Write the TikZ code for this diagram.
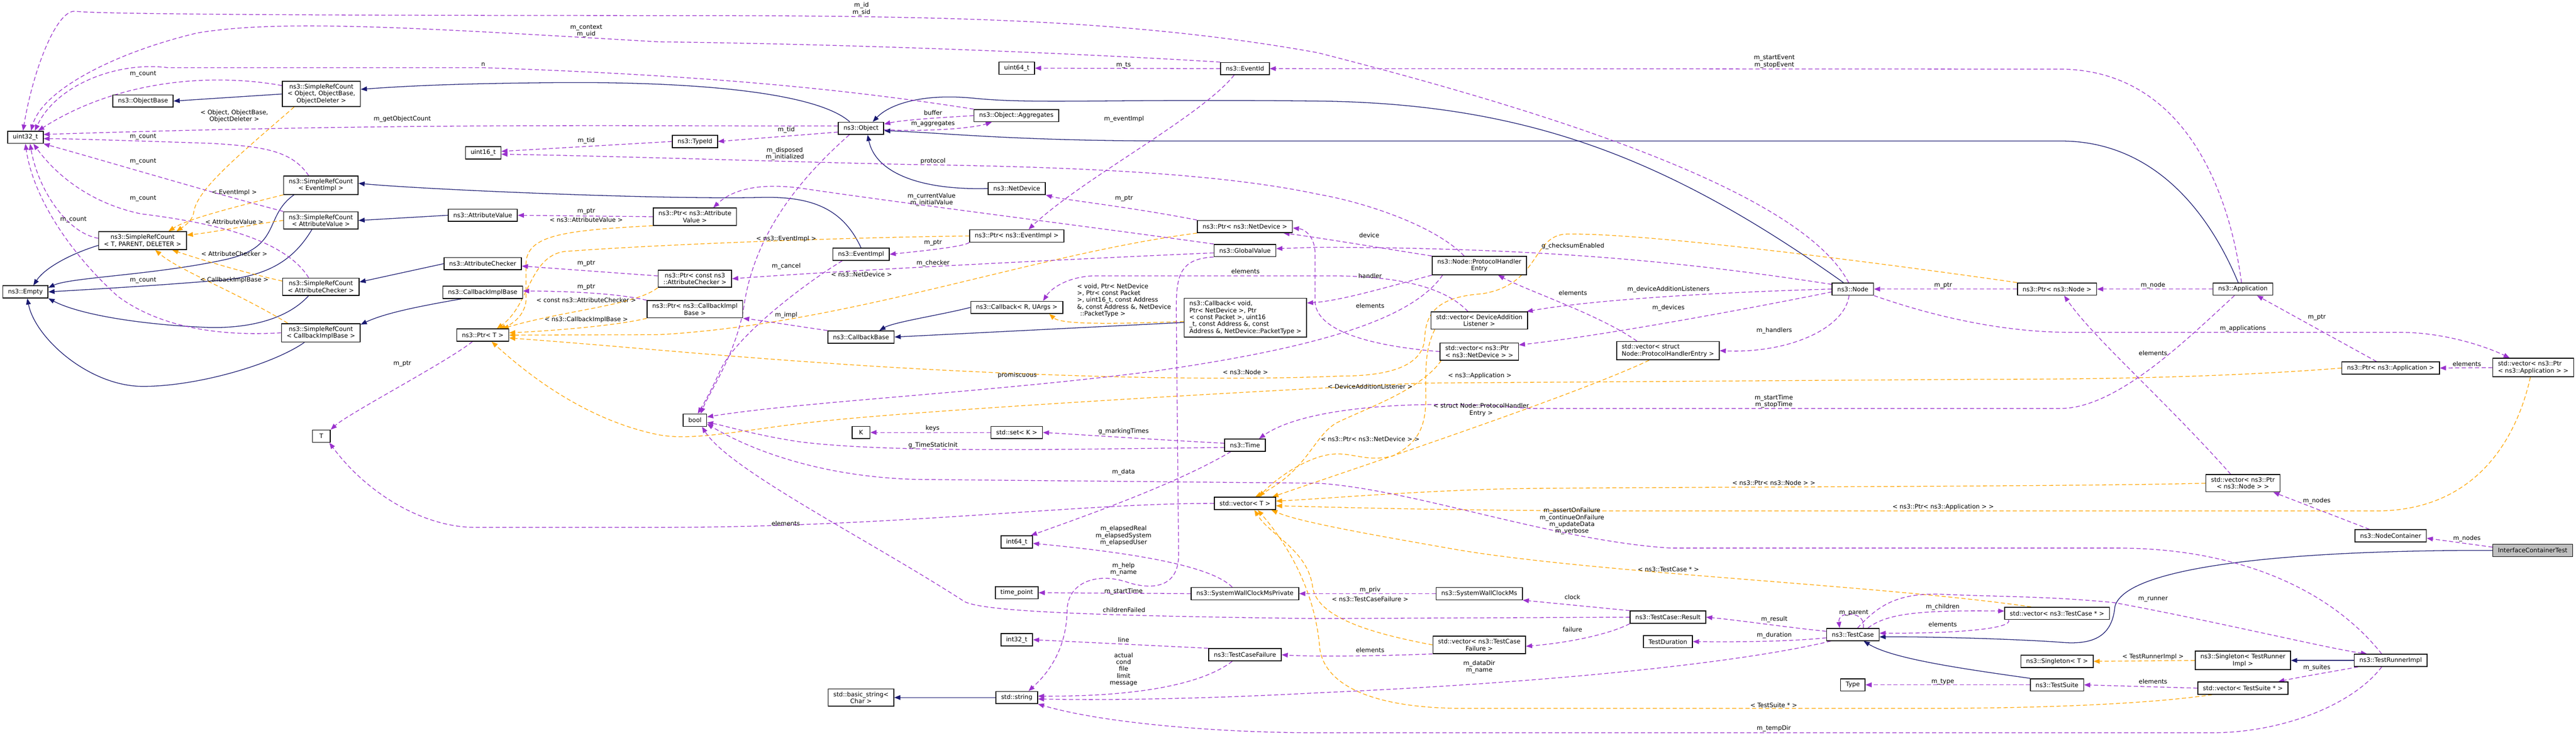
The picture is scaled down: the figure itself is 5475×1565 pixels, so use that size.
\documentclass[tikz,border=0pt]{standalone}
\usepackage{fontspec}
\usepackage{tikz}
\usetikzlibrary{arrows.meta}
\usetikzlibrary{backgrounds}
\newfontfamily\dejavu{DejaVu Sans}
\newcommand{\diagfont}{\dejavu\fontsize{3.7}{4.15}\selectfont}
\definecolor{navyline}{HTML}{191970}
\definecolor{purpleline}{HTML}{9A32CD}
\definecolor{orangeline}{HTML}{FFA500}
\definecolor{rootfill}{HTML}{BFBFBF}

\begin{document}
\begin{tikzpicture}[x=0.01cm, y=-0.01cm,
    classbox/.style={draw=black, line width=0.5pt, fill=white, inner xsep=0.11cm, inner ysep=0.06cm, minimum height=0.26cm, align=center},
    rootbox/.style={classbox, fill=rootfill},
    edgelabel/.style={inner sep=0pt, align=center},
    connector/.style={line width=0.4pt, -{Triangle[length=0.13cm, width=0.1cm]}},
    inherit/.style={connector, draw=navyline},
    member/.style={connector, draw=purpleline, dash pattern=on 2.5pt off 1.5pt},
    templ/.style={connector, draw=orangeline, dash pattern=on 2.5pt off 1.5pt}]
            {\diagfont
            \useasboundingbox (0,0) rectangle (5475,1565);%

            % Drawing the classes, left column
            \node[classbox] (uint32) at (54,292) {uint32\_t};%
            \node[classbox] (objbase) at (304,215) {ns3::ObjectBase};%
            \node[classbox] (srcobj) at (683,200) {ns3::SimpleRefCount\\< Object, ObjectBase,\\ObjectDeleter >};%
            \node[classbox] (srcevent) at (682,394) {ns3::SimpleRefCount\\< EventImpl >};%
            \node[classbox] (srcattr) at (682,469) {ns3::SimpleRefCount\\< AttributeValue >};%
            \node[classbox] (srcgen) at (303,512) {ns3::SimpleRefCount\\< T, PARENT, DELETER >};%
            \node[classbox] (empty) at (54,621) {ns3::Empty};%
            \node[classbox] (srcchecker) at (682,610) {ns3::SimpleRefCount\\< AttributeChecker >};%
            \node[classbox] (srccbimpl) at (682,708) {ns3::SimpleRefCount\\< CallbackImplBase >};%
            \node[classbox, minimum width=0.38cm] (tparam) at (683,928) {T};%

            % Drawing the classes, second column
            \node[classbox] (uint16) at (1027,325) {uint16\_t};%
            \node[classbox] (attrval) at (1026,458) {ns3::AttributeValue};%
            \node[classbox] (checker) at (1026,561) {ns3::AttributeChecker};%
            \node[classbox] (cbimpl) at (1026,622) {ns3::CallbackImplBase};%
            \node[classbox] (ptrgen) at (1026,713) {ns3::Ptr< T >};%

            % Drawing the classes, third column
            \node[classbox] (typeid) at (1477,301) {ns3::TypeId};%
            \node[classbox] (ptrattr) at (1477,461) {ns3::Ptr< ns3::Attribute\\Value >};%
            \node[classbox] (ptrchecker) at (1477,593) {ns3::Ptr< const ns3\\::AttributeChecker >};%
            \node[classbox] (ptrcbimpl) at (1477,658) {ns3::Ptr< ns3::CallbackImpl\\Base >};%
            \node[classbox] (boolean) at (1477,894) {bool};%

            % Drawing the classes, fourth column
            \node[classbox] (object) at (1830,273) {ns3::Object};%
            \node[classbox] (eventimpl) at (1830,541) {ns3::EventImpl};%
            \node[classbox] (cbbase) at (1830,717) {ns3::CallbackBase};%
            \node[classbox, minimum width=0.38cm] (key) at (1830,920) {K};%
            \node[classbox] (basicstring) at (1830,1484) {std::basic\_string<\\Char >};%

            % Drawing the classes, fifth column
            \node[classbox] (uint64) at (2161,145) {uint64\_t};%
            \node[classbox] (aggregates) at (2160,246) {ns3::Object::Aggregates};%
            \node[classbox] (netdevice) at (2161,401) {ns3::NetDevice};%
            \node[classbox] (ptrevent) at (2161,502) {ns3::Ptr< ns3::EventImpl >};%
            \node[classbox] (callbackgen) at (2161,654) {ns3::Callback< R, UArgs >};%
            \node[classbox] (setkey) at (2161,920) {std::set< K >};%
            \node[classbox] (int64) at (2161,1153) {int64\_t};%
            \node[classbox] (timepoint) at (2161,1261) {time\_point};%
            \node[classbox] (int32) at (2161,1361) {int32\_t};%
            \node[classbox] (string) at (2161,1484) {std::string};%

            % Drawing the classes, sixth column
            \node[classbox] (eventid) at (2646,146) {ns3::EventId};%
            \node[classbox] (ptrnetdev) at (2646,482) {ns3::Ptr< ns3::NetDevice >};%
            \node[classbox] (globalvalue) at (2646,533) {ns3::GlobalValue};%
            \node[classbox, align=left] (callbackrx) at (2647,676) {ns3::Callback< void,\\ Ptr< NetDevice >, Ptr\\< const Packet >, uint16\\\_t, const Address \&, const\\ Address \&, NetDevice::PacketType >};%
            \node[classbox] (time) at (2646,947) {ns3::Time};%
            \node[classbox] (vecgen) at (2646,1071) {std::vector< T >};%
            \node[classbox] (clockpriv) at (2646,1263) {ns3::SystemWallClockMsPrivate};%
            \node[classbox] (failure) at (2646,1393) {ns3::TestCaseFailure};%

            % Drawing the classes, seventh column
            \node[classbox] (handlerentry) at (3144,565) {ns3::Node::ProtocolHandler\\Entry};%
            \node[classbox] (veclistener) at (3144,682) {std::vector< DeviceAddition\\Listener >};%
            \node[classbox, align=left] (vecnetdev) at (3144,748) {std::vector< ns3::Ptr\\< ns3::NetDevice > >};%
            \node[classbox] (clock) at (3144,1263) {ns3::SystemWallClockMs};%
            \node[classbox] (vecfailure) at (3144,1372) {std::vector< ns3::TestCase\\Failure >};%

            % Drawing the classes, eighth column
            \node[classbox, align=left] (vechandler) at (3545,746) {std::vector< struct\\Node::ProtocolHandlerEntry >};%
            \node[classbox] (result) at (3545,1313) {ns3::TestCase::Result};%
            \node[classbox] (duration) at (3545,1365) {TestDuration};%

            % Drawing the classes, right part
            \node[classbox] (node) at (3938,615) {ns3::Node};%
            \node[classbox] (testcase) at (3938,1350) {ns3::TestCase};%
            \node[classbox] (type) at (3938,1457) {Type};%
            \node[classbox] (ptrnode) at (4372,615) {ns3::Ptr< ns3::Node >};%
            \node[classbox] (veccase) at (4372,1305) {std::vector< ns3::TestCase * >};%
            \node[classbox] (singleton) at (4372,1407) {ns3::Singleton< T >};%
            \node[classbox] (testsuite) at (4372,1457) {ns3::TestSuite};%
            \node[classbox] (application) at (4767,615) {ns3::Application};%
            \node[classbox] (vecnodes) at (4767,1028) {std::vector< ns3::Ptr\\< ns3::Node > >};%
            \node[classbox] (singletonrunner) at (4767,1405) {ns3::Singleton< TestRunner\\Impl >};%
            \node[classbox] (vecsuite) at (4767,1464) {std::vector< TestSuite * >};%
            \node[classbox] (ptrapp) at (5081,783) {ns3::Ptr< ns3::Application >};%
            \node[classbox] (nodecontainer) at (5081,1140) {ns3::NodeContainer};%
            \node[classbox] (runner) at (5081,1405) {ns3::TestRunnerImpl};%
            \node[classbox, align=left] (vecapp) at (5384,782) {std::vector< ns3::Ptr\\< ns3::Application > >};%
            \node[rootbox] (ictest) at (5383,1171) {InterfaceContainerTest};%

            \begin{scope}[on background layer]
            % Drawing inheritance
            \draw[inherit] (srcobj.west) -- (objbase.east);%
            \draw[inherit] ([xshift=-0.24cm]object.north) .. controls (1740,200) and (1500,172) .. (1161,176) .. controls (950,178) and (850,184) .. ([yshift=0.1cm]srcobj.east);%
            \draw[inherit] ([yshift=-0.1cm]srcgen.west) .. controls (150,540) and (95,570) .. ([xshift=0.17cm]empty.north);%
            \draw[inherit] ([xshift=-0.57cm]srcevent.south) .. controls (560,460) and (600,525) .. (480,552) .. controls (330,585) and (150,590) .. ([yshift=0.09cm]empty.east);%
            \draw[inherit] ([xshift=-0.19cm]srcattr.south) .. controls (620,560) and (560,592) .. (446,598) .. controls (300,610) and (150,618) .. (empty.east);%
            \draw[inherit] ([xshift=-0.26cm]srcchecker.south) .. controls (600,690) and (500,700) .. (429,696) .. controls (300,690) and (170,670) .. (empty.south east);%
            \draw[inherit] ([xshift=-0.35cm]srccbimpl.south) .. controls (580,775) and (420,822) .. (304,822) .. controls (190,822) and (75,720) .. ([xshift=0.04cm]empty.south);%
            \draw[inherit] (eventimpl.north) .. controls (1790,440) and (1720,418) .. (1620,420) .. controls (1400,425) and (900,403) .. ([yshift=0.04cm]srcevent.east);%
            \draw[inherit] (attrval.west) -- (srcattr.east);%
            \draw[inherit] (checker.west) -- ([yshift=0.1cm]srcchecker.east);%
            \draw[inherit] ([xshift=0.4cm]cbimpl.south west) .. controls (900,650) and (820,665) .. ([yshift=-0.03cm]srccbimpl.north east);%
            \draw[inherit] (netdevice.west) .. controls (1950,405) and (1860,365) .. ([xshift=0.14cm]object.south);%
            \draw[inherit] ([xshift=-0.2cm]node.north) .. controls (3550,340) and (3250,220) .. (2800,215) .. controls (2350,210) and (2200,222) .. (2070,209) .. controls (1960,198) and (1890,222) .. ([xshift=0.25cm]object.north);%
            \draw[inherit] ([xshift=-0.1cm]application.north) .. controls (4690,440) and (4570,300) .. (4380,300) -- (2500,300) .. controls (2150,300) and (2000,282) .. ([yshift=-0.05cm]object.east);%
            \draw[inherit] (callbackgen.west) .. controls (2000,670) and (1900,685) .. ([xshift=0.39cm]cbbase.north);%
            \draw[inherit] ([yshift=-0.1cm]callbackrx.west) -- (cbbase.east);%
            \draw[inherit] (string.west) -- (basicstring.east);%
            \draw[inherit] (testsuite.north west) .. controls (4150,1420) and (4020,1400) .. ([xshift=0.23cm]testcase.south);%
            \draw[inherit] (ictest.west) .. controls (4900,1170) and (4520,1200) .. (4495,1290) .. controls (4490,1345) and (4460,1372) .. (4387,1367) .. controls (4300,1360) and (4100,1354) .. ([yshift=-0.05cm]testcase.east);%
            \draw[inherit] (runner.west) -- (singletonrunner.east);%

            % Drawing template instances
            \draw[templ] ([xshift=-0.58cm]srcobj.south) .. controls (520,320) and (420,400) .. (412,450) .. controls (410,470) and (390,482) .. ([xshift=0.72cm]srcgen.north);%
            \draw[templ] (srcevent.south west) .. controls (500,440) and (400,465) .. ([xshift=0.55cm]srcgen.north);%
            \draw[templ] (srcattr.west) .. controls (550,475) and (450,495) .. ([yshift=0.12cm]srcgen.east);%
            \draw[templ] ([yshift=0.12cm]srcchecker.west) .. controls (500,575) and (420,550) .. ([xshift=0.63cm]srcgen.south);%
            \draw[templ] ([xshift=0.14cm]srccbimpl.north west) .. controls (500,620) and (380,575) .. ([xshift=0.27cm]srcgen.south);%
            \draw[templ] (ptrattr.south west) .. controls (1200,490) and (1120,500) .. (1118,560) -- (1118,640) .. controls (1115,670) and (1090,690) .. ([xshift=0.35cm]ptrgen.north);%
            \draw[templ] (ptrevent.west) .. controls (1800,505) and (1400,520) .. (1200,535) .. controls (1125,545) and (1125,650) .. ([xshift=0.3cm]ptrgen.north);%
            \draw[templ] (ptrchecker.south west) .. controls (1350,650) and (1200,660) .. ([xshift=0.42cm]ptrgen.north);%
            \draw[templ] (ptrcbimpl.south west) .. controls (1300,695) and (1150,705) .. ([yshift=0.05cm]ptrgen.east);%
            \draw[templ] (ptrnetdev.south west) .. controls (2200,540) and (1800,690) .. (1400,712) -- (ptrgen.east);%
            \draw[templ] (ptrnode.north west) .. controls (4000,560) and (3500,495) .. (3330,498) .. controls (3255,500) and (3275,605) .. (3150,625) .. controls (3050,632) and (3030,670) .. (3028,720) .. controls (3024,780) and (2950,800) .. (2850,800) .. controls (2500,815) and (2000,790) .. (1750,772) .. controls (1500,755) and (1300,735) .. ([yshift=-0.06cm]ptrgen.east);%
            \draw[templ] (ptrapp.west) .. controls (4700,805) and (4400,807) .. (4200,807) -- (3023,815) .. controls (2700,830) and (2000,870) .. (1757,895) .. controls (1600,910) and (1480,940) .. (1400,925) .. controls (1300,905) and (1180,850) .. ([xshift=0.19cm]ptrgen.south);%
            \draw[templ] ([yshift=-0.08cm]callbackrx.west) .. controls (2350,690) and (2255,690) .. ([xshift=0.69cm]callbackgen.south);%
            \draw[templ] ([xshift=0.09cm]veclistener.south west) .. controls (3030,740) and (3030,780) .. (3030,830) .. controls (3033,900) and (3020,940) .. (2960,970) .. controls (2900,985) and (2870,958) .. (2820,968) .. controls (2760,980) and (2700,1030) .. ([xshift=0.3cm]vecgen.north);%
            \draw[templ] ([xshift=0.03cm]vecnetdev.south west) .. controls (3020,830) and (2900,870) .. (2840,900) .. controls (2790,930) and (2780,1000) .. ([xshift=0.22cm]vecgen.north);%
            \draw[templ] ([xshift=-0.4cm]vechandler.south) .. controls (3350,840) and (2900,990) .. ([xshift=0.58cm]vecgen.north);%
            \draw[templ] (vecnodes.west) .. controls (4400,1036) and (3400,1036) .. (3200,1040) .. controls (3000,1045) and (2800,1062) .. ([yshift=0.05cm]vecgen.east);%
            \draw[templ] ([xshift=-0.06cm]vecapp.south) .. controls (5345,950) and (5250,1087) .. (5050,1087) -- (3400,1087) .. controls (3000,1085) and (2800,1078) .. ([yshift=-0.05cm]vecgen.east);%
            \draw[templ] ([xshift=-0.55cm]veccase.north) .. controls (4000,1245) and (3400,1220) .. (3100,1170) .. controls (2900,1135) and (2760,1110) .. ([xshift=-0.1cm]vecgen.south east);%
            \draw[templ] (vecfailure.west) .. controls (2900,1345) and (2800,1310) .. (2790,1250) .. controls (2780,1170) and (2700,1140) .. ([xshift=0.2cm]vecgen.south);%
            \draw[templ] ([xshift=-0.65cm]vecsuite.south) .. controls (4550,1500) and (4300,1507) .. (4100,1507) -- (3100,1507) .. controls (2900,1505) and (2815,1450) .. (2805,1380) .. controls (2795,1250) and (2730,1150) .. ([xshift=0.27cm]vecgen.south);%
            \draw[templ] (singletonrunner.west) -- (singleton.east);%

            % Drawing members
            \draw[member] ([xshift=-0.09cm]node.north) .. controls (3850,450) and (3500,290) .. (2800,112) .. controls (2400,40) and (2000,33) .. (1400,33) .. controls (800,33) and (220,31) .. (160,24) .. controls (120,20) and (70,150) .. ([xshift=-0.05cm]uint32.north);%
            \draw[member] (eventid.north west) .. controls (2400,120) and (1900,95) .. (1400,89) .. controls (900,60) and (600,40) .. (420,70) .. controls (250,110) and (90,190) .. ([xshift=0.12cm]uint32.north);%
            \draw[member] (aggregates.north west) .. controls (1800,190) and (1500,160) .. (1027,144) -- (357,144) .. controls (250,130) and (120,180) .. ([xshift=0.2cm]uint32.north);%
            \draw[member] ([yshift=0.18cm]srcobj.west) .. controls (450,155) and (250,170) .. ([xshift=0.27cm]uint32.north);%
            \draw[member] ([yshift=0.05cm]object.west) .. controls (1400,269) and (900,260) .. ([yshift=0.06cm]uint32.east);%
            \draw[member] ([xshift=-0.26cm]srcevent.north) .. controls (620,320) and (560,312) .. (450,305) .. controls (300,300) and (150,295) .. ([yshift=-0.03cm]uint32.east);%
            \draw[member] (srcattr.north west) .. controls (450,410) and (250,350) .. (uint32.south east);%
            \draw[member] ([yshift=0.05cm]srcgen.west) .. controls (140,495) and (80,400) .. ([xshift=0.1cm]uint32.south);%
            \draw[member] ([xshift=-0.26cm]srcchecker.north) .. controls (600,500) and (420,470) .. (300,455) .. controls (180,430) and (110,360) .. ([xshift=0.17cm]uint32.south);%
            \draw[member] (srccbimpl.west) .. controls (450,717) and (330,690) .. (250,630) .. controls (150,540) and (70,420) .. (uint32.south);%
            \draw[member] (typeid.west) -- ([yshift=0.03cm]uint16.east);%
            \draw[member] ([xshift=-0.32cm]handlerentry.north) .. controls (3050,480) and (2900,430) .. (2800,413) .. controls (2600,370) and (2300,355) .. (1936,350) .. controls (1700,345) and (1300,332) .. ([yshift=-0.03cm]uint16.east);%
            \draw[member] ([yshift=-0.08cm]object.west) -- (typeid.east);%
            \draw[member] (aggregates.west) .. controls (2000,250) and (1920,255) .. ([yshift=0.09cm]object.east);%
            \draw[member] ([yshift=-0.03cm]object.east) .. controls (1950,280) and (2060,275) .. ([xshift=-0.52cm]aggregates.south);%
            \draw[member] (ptrattr.west) -- (attrval.east);%
            \draw[member] ([yshift=0.06cm]ptrchecker.west) -- ([yshift=-0.05cm]checker.east);%
            \draw[member] (ptrcbimpl.north west) .. controls (1330,628) and (1250,620) .. ([yshift=0.03cm]cbimpl.east);%
            \draw[member] ([xshift=-0.22cm]ptrgen.south) .. controls (950,770) and (740,880) .. (tparam.north east);%
            \draw[member] (ptrevent.south west) .. controls (2050,525) and (1950,535) .. (eventimpl.east);%
            \draw[member] (ptrnetdev.north west) .. controls (2400,440) and (2260,425) .. (netdevice.south east);%
            \draw[member] ([xshift=-0.23cm]eventid.south) .. controls (2550,250) and (2300,380) .. ([xshift=0.25cm]ptrevent.north);%
            \draw[member] (eventid.west) -- (uint64.east);%
            \draw[member] (globalvalue.north west) .. controls (2300,480) and (1900,430) .. (1700,400) .. controls (1620,390) and (1560,400) .. ([xshift=0.39cm]ptrattr.north);%
            \draw[member] ([yshift=-0.05cm]globalvalue.west) .. controls (2300,550) and (1800,575) .. (ptrchecker.east);%
            \draw[member] (cbbase.north west) .. controls (1700,695) and (1620,682) .. (ptrcbimpl.south east);%
            \draw[member] (globalvalue.south west) .. controls (2505,550) and (2500,590) .. (2500,660) -- (2505,1180) .. controls (2505,1250) and (2450,1255) .. (2400,1240) .. controls (2330,1215) and (2268,1240) .. (2268,1300) .. controls (2266,1380) and (2230,1430) .. ([xshift=0.25cm]string.north);%
            \draw[member] (handlerentry.north west) .. controls (2950,530) and (2800,505) .. ([xshift=-0.2cm]ptrnetdev.south east);%
            \draw[member] (vecnetdev.west) .. controls (2900,735) and (2795,700) .. (2795,640) -- (2795,540) .. controls (2795,505) and (2775,488) .. ([yshift=-0.03cm]ptrnetdev.east);%
            \draw[member] (handlerentry.south west) .. controls (2950,610) and (2850,640) .. ([yshift=-0.11cm]callbackrx.north east);%
            \draw[member] ([xshift=-0.24cm]veclistener.north) .. controls (3080,620) and (3000,590) .. (2850,587) -- (2320,587) .. controls (2270,590) and (2235,612) .. ([xshift=0.56cm]callbackgen.north);%
            \draw[member] ([xshift=-0.66cm]vechandler.north) .. controls (3400,670) and (3250,620) .. ([xshift=0.4cm]handlerentry.south);%
            \draw[member] ([xshift=-0.78cm]handlerentry.south) .. controls (3000,680) and (2800,740) .. (2450,790) .. controls (2100,835) and (1700,855) .. ([yshift=0.07cm]boolean.east);%
            \draw[member] ([yshift=0.1cm]node.west) .. controls (3600,560) and (3300,527) .. (2800,526) -- ([yshift=0.04cm]globalvalue.east);%
            \draw[member] (node.west) .. controls (3700,620) and (3400,635) .. ([xshift=-0.03cm]veclistener.north east);%
            \draw[member] ([yshift=-0.06cm]node.west) .. controls (3700,660) and (3400,715) .. ([yshift=-0.05cm]vecnetdev.north east);%
            \draw[member] ([xshift=-0.08cm]node.south) .. controls (3920,700) and (3800,752) .. (vechandler.east);%
            \draw[member] (node.south east) .. controls (4100,670) and (4250,707) .. (4400,707) -- (5100,707) .. controls (5200,707) and (5290,740) .. ([xshift=-0.5cm]vecapp.north);%
            \draw[member] (ptrnode.west) -- (node.east);%
            \draw[member] (application.west) -- (ptrnode.east);%
            \draw[member] ([xshift=-0.3cm]ptrapp.north) -- ([xshift=0.3cm]application.south);%
            \draw[member] (vecapp.west) -- (ptrapp.east);%
            \draw[member] ([xshift=-0.03cm]application.north) .. controls (4740,420) and (4650,150) .. (4380,147) -- (eventid.east);%
            \draw[member] ([xshift=-0.18cm]application.south) .. controls (4650,720) and (4500,869) .. (4379,869) -- (3250,869) .. controls (3050,850) and (2780,860) .. ([xshift=0.3cm]time.north);%
            \draw[member] ([yshift=0.04cm]time.west) .. controls (2450,935) and (2300,925) .. (setkey.east);%
            \draw[member] ([yshift=-0.05cm]time.west) .. controls (2300,955) and (1900,965) .. (1700,940) .. controls (1600,925) and (1540,905) .. ([yshift=-0.05cm]boolean.east);%
            \draw[member] (setkey.west) -- (key.east);%
            \draw[member] ([xshift=-0.3cm]time.south) .. controls (2500,1030) and (2300,1100) .. ([xshift=0.3cm]int64.north);%
            \draw[member] ([xshift=-0.19cm]runner.north) .. controls (4950,1250) and (4750,1166) .. (4500,1166) -- (3550,1166) .. controls (3300,1150) and (3000,1040) .. (2800,1028) -- (1950,1020) .. controls (1750,1015) and (1600,960) .. ([yshift=0.06cm]boolean.south east);%
            \draw[member] (vecgen.west) .. controls (2300,1070) and (1900,1122) .. (1400,1122) -- (1010,1122) .. controls (900,1122) and (780,1050) .. ([xshift=0.17cm]tparam.south);%
            \draw[member] ([xshift=-0.27cm]clockpriv.north) .. controls (2580,1210) and (2450,1180) .. ([yshift=-0.03cm]int64.east);%
            \draw[member] (clockpriv.west) -- (timepoint.east);%
            \draw[member] (clock.west) -- (clockpriv.east);%
            \draw[member] (result.north west) -- (clock.south east);%
            \draw[member] (result.south west) .. controls (3430,1345) and (3350,1366) .. ([yshift=-0.03cm]vecfailure.east);%
            \draw[member] (result.west) -- (2800,1316) .. controls (2300,1310) and (2090,1300) .. (2050,1280) .. controls (1850,1150) and (1550,1000) .. ([xshift=0.15cm]boolean.south);%
            \draw[member] ([yshift=0.07cm]testcase.west) .. controls (3800,1335) and (3700,1320) .. (result.east);%
            \draw[member] ([yshift=-0.07cm]testcase.west) .. controls (3800,1365) and (3700,1366) .. (duration.east);%
            \draw[member] ([xshift=0.22cm]testcase.north) .. controls (3968,1300) and (3905,1298) .. ([xshift=-0.28cm]testcase.north);%
            \draw[member] ([xshift=0.32cm]testcase.north) .. controls (4010,1305) and (4080,1298) .. ([yshift=0.05cm]veccase.west);%
            \draw[member] ([xshift=0.09cm]veccase.south west) .. controls (4280,1338) and (4150,1348) .. ([yshift=0.03cm]testcase.east);%
            \draw[member] ([xshift=0.1cm]testcase.north) .. controls (3990,1290) and (4030,1262) .. (4121,1264) .. controls (4250,1270) and (4350,1268) .. (4493,1282) .. controls (4700,1320) and (4950,1380) .. ([xshift=-0.5cm]runner.north);%
            \draw[member] ([xshift=0.1cm]testcase.south west) .. controls (3700,1410) and (3300,1452) .. (2800,1474) .. controls (2500,1490) and (2300,1489) .. ([yshift=-0.03cm]string.east);%
            \draw[member] (testsuite.west) -- (type.east);%
            \draw[member] ([xshift=0.09cm]runner.south west) .. controls (4950,1430) and (4890,1440) .. ([xshift=0.75cm]vecsuite.north);%
            \draw[member] (vecsuite.west) -- (testsuite.east);%
            \draw[member] ([xshift=-0.19cm]runner.south) .. controls (5000,1500) and (4850,1559) .. (4700,1559) -- (2800,1559) .. controls (2600,1559) and (2350,1540) .. (string.south east);%
            \draw[member] (failure.north west) -- (int32.east);%
            \draw[member] ([xshift=-0.27cm]failure.south) .. controls (2550,1460) and (2400,1482) .. ([yshift=0.03cm]string.east);%
            \draw[member] (vecfailure.south west) .. controls (2950,1395) and (2800,1398) .. (failure.east);%
            \draw[member] ([yshift=0.07cm]ictest.west) -- ([yshift=-0.05cm]nodecontainer.east);%
            \draw[member] ([xshift=-0.45cm]nodecontainer.north) -- ([xshift=-0.15cm]vecnodes.south east);%
            \draw[member] ([xshift=-0.26cm]vecnodes.north) .. controls (4600,850) and (4450,720) .. ([xshift=0.15cm]ptrnode.south);%
            \draw[member] ([xshift=-0.25cm]object.south) .. controls (1700,380) and (1600,500) .. (1580,660) .. controls (1560,760) and (1510,830) .. ([xshift=0.12cm]boolean.north);%
            \draw[member] ([xshift=-0.4cm]eventimpl.south) .. controls (1700,610) and (1560,720) .. (1530,790) .. controls (1512,830) and (1495,860) .. ([xshift=0.06cm]boolean.north);%
            \end{scope}

            % Labels of the connectors
            \node[edgelabel] (lab-mid) at (1831,19) {m\_id\\m\_sid};%
            \node[edgelabel] (lab-mcontext) at (1246,66) {m\_context\\m\_uid};%
            \node[edgelabel] (lab-n) at (1027,137) {n};%
            \node[edgelabel] (lab-count1) at (304,157) {m\_count};%
            \node[edgelabel] (lab-srcobj) at (498,247) {< Object, ObjectBase,\\ObjectDeleter >};%
            \node[edgelabel] (lab-getcount) at (855,253) {m\_getObjectCount};%
            \node[edgelabel] (lab-count2) at (304,291) {m\_count};%
            \node[edgelabel] (lab-count3) at (304,343) {m\_count};%
            \node[edgelabel] (lab-count4) at (304,422) {m\_count};%
            \node[edgelabel] (lab-count5) at (156,467) {m\_count};%
            \node[edgelabel] (lab-count6) at (304,596) {m\_count};%
            \node[edgelabel] (lab-srcevent) at (498,410) {< EventImpl >};%
            \node[edgelabel] (lab-srcattr) at (498,472) {< AttributeValue >};%
            \node[edgelabel] (lab-srcchecker) at (498,540) {< AttributeChecker >};%
            \node[edgelabel] (lab-srccbimpl) at (498,596) {< CallbackImplBase >};%
            \node[edgelabel] (lab-tid1) at (1246,299) {m\_tid};%
            \node[edgelabel] (lab-tid2) at (1671,276) {m\_tid};%
            \node[edgelabel] (lab-buffer) at (1983,240) {buffer};%
            \node[edgelabel] (lab-aggregates) at (1983,264) {m\_aggregates};%
            \node[edgelabel] (lab-disposed) at (1668,327) {m\_disposed\\m\_initialized};%
            \node[edgelabel] (lab-protocol) at (1983,343) {protocol};%
            \node[edgelabel] (lab-ts) at (2388,139) {m\_ts};%
            \node[edgelabel] (lab-eventimpl) at (2389,253) {m\_eventImpl};%
            \node[edgelabel] (lab-ptr1) at (2389,422) {m\_ptr};%
            \node[edgelabel] (lab-value) at (1980,425) {m\_currentValue\\m\_initialValue};%
            \node[edgelabel] (lab-ptr2) at (1246,450) {m\_ptr};%
            \node[edgelabel] (lab-ptrattr) at (1246,468) {< ns3::AttributeValue >};%
            \node[edgelabel] (lab-ptrevent) at (1671,508) {< ns3::EventImpl >};%
            \node[edgelabel] (lab-ptr3) at (1983,516) {m\_ptr};%
            \node[edgelabel] (lab-cancel) at (1671,566) {m\_cancel};%
            \node[edgelabel] (lab-checker) at (1983,560) {m\_checker};%
            \node[edgelabel] (lab-ptrnetdev) at (1831,584) {< ns3::NetDevice >};%
            \node[edgelabel] (lab-ptr4) at (1246,560) {m\_ptr};%
            \node[edgelabel] (lab-ptr5) at (1246,611) {m\_ptr};%
            \node[edgelabel] (lab-ptrchecker) at (1246,638) {< const ns3::AttributeChecker >};%
            \node[edgelabel] (lab-ptrcbimpl) at (1246,680) {< ns3::CallbackImplBase >};%
            \node[edgelabel] (lab-impl) at (1671,671) {m\_impl};%
            \node[edgelabel] (lab-ptr6) at (855,774) {m\_ptr};%
            \node[edgelabel] (lab-elements1) at (2647,577) {elements};%
            \node[edgelabel, align=left] (lab-callbackrx) at (2389,639) {< void, Ptr< NetDevice\\>, Ptr< const Packet\\>, uint16\_t, const Address\\\&, const Address \&, NetDevice\\\hspace{0.5em}::PacketType >};%
            \node[edgelabel] (lab-promiscuous) at (2162,799) {promiscuous};%
            \node[edgelabel] (lab-ptrnode) at (2647,792) {< ns3::Node >};%
            \node[edgelabel] (lab-device) at (2910,500) {device};%
            \node[edgelabel] (lab-checksum) at (3343,524) {g\_checksumEnabled};%
            \node[edgelabel] (lab-handler) at (2912,587) {handler};%
            \node[edgelabel] (lab-elements2) at (3343,623) {elements};%
            \node[edgelabel] (lab-elements3) at (2912,651) {elements};%
            \node[edgelabel] (lab-listeners) at (3546,616) {m\_deviceAdditionListeners};%
            \node[edgelabel] (lab-devices) at (3546,655) {m\_devices};%
            \node[edgelabel] (lab-handlers) at (3771,703) {m\_handlers};%
            \node[edgelabel] (lab-startevent) at (3771,131) {m\_startEvent\\m\_stopEvent};%
            \node[edgelabel] (lab-ptr7) at (4130,607) {m\_ptr};%
            \node[edgelabel] (lab-node) at (4576,607) {m\_node};%
            \node[edgelabel] (lab-ptr8) at (4924,675) {m\_ptr};%
            \node[edgelabel] (lab-applications) at (4767,699) {m\_applications};%
            \node[edgelabel] (lab-elements4) at (4576,751) {elements};%
            \node[edgelabel] (lab-elements5) at (5243,774) {elements};%
            \node[edgelabel] (lab-ptrapp) at (3145,800) {< ns3::Application >};%
            \node[edgelabel] (lab-veclistener) at (2912,822) {< DeviceAdditionListener >};%
            \node[edgelabel] (lab-vechandler) at (3148,872) {< struct Node::ProtocolHandler\\Entry >};%
            \node[edgelabel] (lab-vecnetdev) at (2912,934) {< ns3::Ptr< ns3::NetDevice > >};%
            \node[edgelabel] (lab-starttime1) at (3770,854) {m\_startTime\\m\_stopTime};%
            \node[edgelabel] (lab-vecnodes) at (3770,1027) {< ns3::Ptr< ns3::Node > >};%
            \node[edgelabel] (lab-vecapp) at (4130,1079) {< ns3::Ptr< ns3::Application > >};%
            \node[edgelabel] (lab-flags) at (3341,1109) {m\_assertOnFailure\\m\_continueOnFailure\\m\_updateData\\m\_verbose};%
            \node[edgelabel] (lab-veccase) at (3546,1211) {< ns3::TestCase * >};%
            \node[edgelabel] (lab-vecfailure) at (2912,1275) {< ns3::TestCaseFailure >};%
            \node[edgelabel] (lab-vecsuite) at (3770,1500) {< TestSuite * >};%
            \node[edgelabel] (lab-singleton) at (4576,1397) {< TestRunnerImpl >};%
            \node[edgelabel] (lab-keys) at (1982,911) {keys};%
            \node[edgelabel] (lab-marking) at (2388,918) {g\_markingTimes};%
            \node[edgelabel] (lab-staticinit) at (1983,948) {g\_TimeStaticInit};%
            \node[edgelabel] (lab-data) at (2388,1004) {m\_data};%
            \node[edgelabel] (lab-elements6) at (1670,1114) {elements};%
            \node[edgelabel] (lab-elapsed) at (2388,1140) {m\_elapsedReal\\m\_elapsedSystem\\m\_elapsedUser};%
            \node[edgelabel] (lab-help) at (2388,1211) {m\_help\\m\_name};%
            \node[edgelabel] (lab-starttime2) at (2388,1259) {m\_startTime};%
            \node[edgelabel] (lab-childrenfailed) at (2389,1298) {childrenFailed};%
            \node[edgelabel] (lab-line) at (2388,1361) {line};%
            \node[edgelabel] (lab-actual) at (2388,1424) {actual\\cond\\file\\limit\\message};%
            \node[edgelabel] (lab-priv) at (2912,1255) {m\_priv};%
            \node[edgelabel] (lab-clock) at (3342,1270) {clock};%
            \node[edgelabel] (lab-failure) at (3342,1339) {failure};%
            \node[edgelabel] (lab-elements7) at (2912,1383) {elements};%
            \node[edgelabel] (lab-datadir) at (3144,1419) {m\_dataDir\\m\_name};%
            \node[edgelabel] (lab-result) at (3771,1318) {m\_result};%
            \node[edgelabel] (lab-duration) at (3771,1352) {m\_duration};%
            \node[edgelabel] (lab-parent) at (3940,1304) {m\_parent};%
            \node[edgelabel] (lab-children) at (4129,1291) {m\_children};%
            \node[edgelabel] (lab-elements8) at (4129,1328) {elements};%
            \node[edgelabel] (lab-type) at (4129,1450) {m\_type};%
            \node[edgelabel] (lab-tempdir) at (3770,1550) {m\_tempDir};%
            \node[edgelabel] (lab-nodes1) at (4924,1066) {m\_nodes};%
            \node[edgelabel] (lab-nodes2) at (5243,1146) {m\_nodes};%
            \node[edgelabel] (lab-runner) at (4576,1275) {m\_runner};%
            \node[edgelabel] (lab-suites) at (4924,1421) {m\_suites};%
            \node[edgelabel] (lab-elements9) at (4576,1450) {elements};%
            }
        \end{tikzpicture}
\end{document}
